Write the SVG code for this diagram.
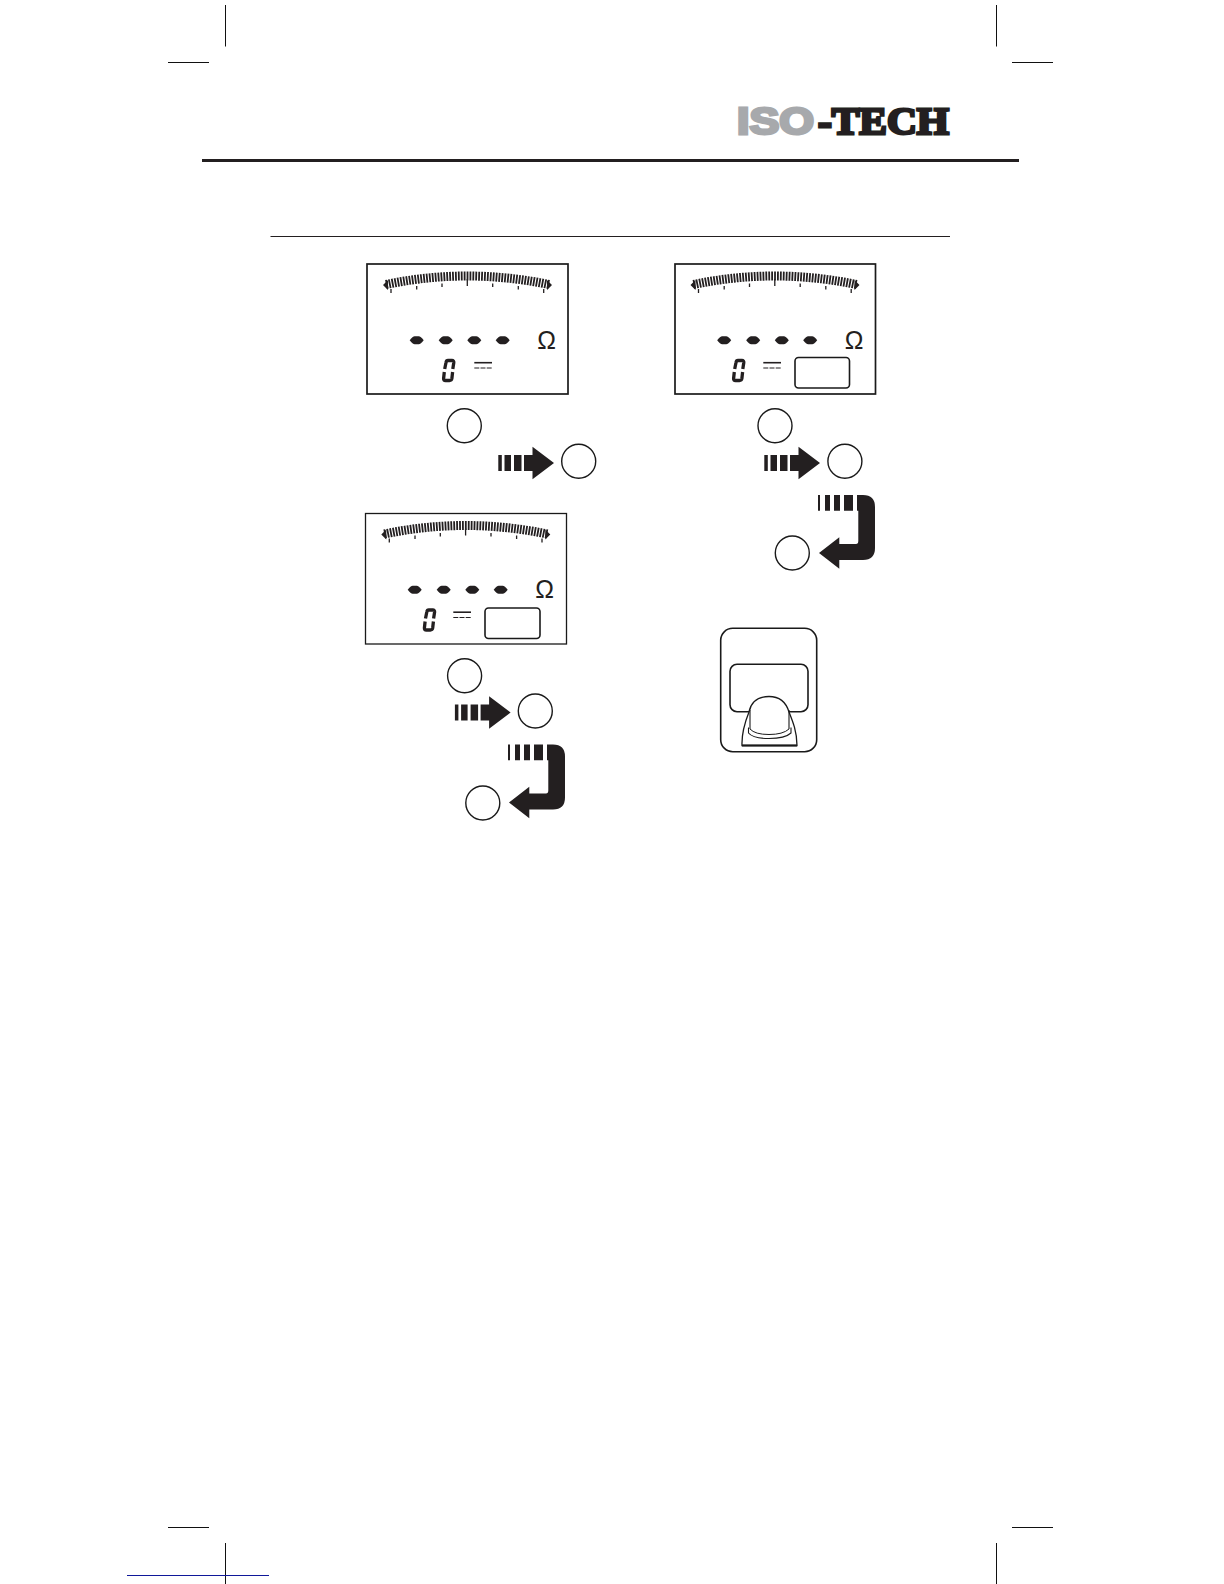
<svg xmlns="http://www.w3.org/2000/svg" xmlns:xlink="http://www.w3.org/1999/xlink" width="1224" height="1584" viewBox="0 0 1224 1584">
<style>
.crop{stroke:#111;stroke-width:1;fill:none}
.frame{fill:#fff;stroke:#1a1a1a;stroke-width:1.7}
.thin{fill:none;stroke:#1a1a1a;stroke-width:1.6}
.ring{fill:#fff;stroke:#1a1a1a;stroke-width:1.4}
.blk{fill:#231f20}
.om{font-family:"Liberation Sans",sans-serif;font-size:25px;fill:#231f20}
</style>
<defs>
<g id="scale">
<path d="M386 284.500Q467 267.500 549 284.500" fill="none" stroke="#231f20" stroke-width="9" stroke-dasharray="1.800 1.100"/>
<path class="blk" d="M383 285l5-5v10zM552 285l-5-5v10z"/>
<path d="M391 289v4M416.700 286v3.500M442 283.500v3.500M467.300 279v7M492.700 283.500v3.500M518.300 286v3.500M543.700 289v4" stroke="#231f20" stroke-width="1.300" fill="none"/>
</g>
<path id="dot" class="blk" d="M-7 0Q-4-4-2-4H2Q4-4 7 0Q4 4 2 4H-2Q-4 4-7 0Z"/>
<g id="dots">
<use href="#dot" x="416.700" y="340.300"/><use href="#dot" x="445.700" y="340.300"/><use href="#dot" x="474.300" y="340.300"/><use href="#dot" x="502.700" y="340.300"/>
<text class="om" x="546.700" y="348.500" text-anchor="middle">Ω</text>
</g>
<path id="digit" d="M444.700 369L446 362.500Q446.300 360.500 448 360.500H452Q454 360.500 453.800 362.500L452.800 369M444.300 372L443.600 378.500Q443.400 380.500 445.500 380.500H449.500Q451.500 380.500 451.900 378.500L452.600 372" fill="none" stroke="#231f20" stroke-width="3.300"/>
<g id="dc"><path d="M474.300 362.700H492" stroke="#231f20" stroke-width="1.600"/><path d="M474.300 368H492" stroke="#231f20" stroke-width="1" stroke-dasharray="5 1.200"/></g>
<path id="arrow" class="blk" d="M498.300 455h3.500v16h-3.500zM504.500 455h6.500v16h-6.500zM514 455h7.500v16h-7.500zM524 455h8.500v-8.300L554 463L532.500 479.300V471h-8.500z"/>
<path id="bend" class="blk" d="M818 495h2v15.700h-2zM825 495h5v15.700h-5zM834 495h6v15.700h-6zM844 495h9v15.700h-9zM857 495h6Q875 495 875 507V548Q875 560 863 560H839.300V568.700L819 553L839.300 537.300V544H856Q858.300 544 858.300 541V510.700H857z"/>
<circle id="c" class="ring" r="17"/>
</defs>

<g id="crop-marks">
<path class="crop" d="M225.500 5V46.500M168 62.500H209M996.500 5V46.500M1012 62.500H1053M168 1527.500H209M225.500 1543V1584M996.500 1543V1584M1012 1527.500H1053"/>
<path d="M127 1575.500H269" stroke="#10189a" stroke-width="1"/>
</g>

<g id="logo">
<text x="737" y="134" font-family="'Liberation Sans',sans-serif" font-weight="700" font-size="36" fill="#a7a9ac" stroke="#a7a9ac" stroke-width="2.800" textLength="77" lengthAdjust="spacingAndGlyphs">ISO</text>
<text x="818" y="134" font-family="'Liberation Serif',serif" font-weight="700" font-size="38" fill="#231f20" stroke="#231f20" stroke-width="2.800" textLength="131" lengthAdjust="spacingAndGlyphs">-TECH</text>
</g>

<g id="rules">
<path d="M202 160.500H1019" stroke="#231f20" stroke-width="3"/>
<path d="M270.500 236.500H950" stroke="#231f20" stroke-width="1"/>
</g>

<g id="display-1">
<rect class="frame" x="367" y="264" width="201" height="130"/>
<use href="#scale"/><use href="#dots"/><use href="#digit"/><use href="#dc"/>
</g>
<g id="display-2">
<rect class="frame" x="675" y="264" width="200.500" height="130"/>
<use href="#scale" x="307.500"/><use href="#dots" x="307.500"/><use href="#digit" x="290"/><use href="#dc" x="289"/>
<rect class="thin" x="795" y="357.500" width="54.500" height="30.500" rx="3.500"/>
</g>
<g id="display-3">
<rect class="frame" x="365.500" y="513.500" width="201" height="130.500" style="stroke-width:1.300"/>
<use href="#scale" x="-1.700" y="249.500"/><use href="#dots" x="-2" y="249.500"/><use href="#digit" x="-19.200" y="249.500"/><use href="#dc" x="-21" y="249.500"/>
<rect class="thin" x="485" y="608" width="55" height="30.500" rx="3.500"/>
</g>

<g id="connectors">
<use href="#arrow"/>
<use href="#arrow" x="266"/>
<use href="#arrow" x="-43.400" y="249.500"/>
<use href="#bend"/>
<use href="#bend" x="-310" y="249.500"/>
</g>

<g id="step-1a"><use href="#c" x="464.300" y="425.700"/></g>
<g id="step-1b"><use href="#c" x="578.700" y="461.300"/></g>
<g id="step-2a"><use href="#c" x="775" y="425.700"/></g>
<g id="step-2b"><use href="#c" x="844.900" y="461.300"/></g>
<g id="step-2c"><use href="#c" x="792.300" y="553"/></g>
<g id="step-3a"><use href="#c" x="464.600" y="675.700"/></g>
<g id="step-3b"><use href="#c" x="535.300" y="711"/></g>
<g id="step-3c"><use href="#c" x="482.800" y="803"/></g>

<g id="button">
<rect class="thin" x="720.700" y="628.300" width="96" height="123.400" rx="12"/>
<rect class="thin" x="730" y="664.300" width="78" height="47.400" rx="7"/>
<path d="M742 745.500C741.500 732 745 722 749 712C751 702 758 696.500 769 696.500C780 696.500 786 702 789 712C793 722 797 732 797 745.500Z" fill="#fff" stroke="#1a1a1a" stroke-width="1.300"/>
<path d="M742 745.500H797" stroke="#1a1a1a" stroke-width="2.200"/>
<path d="M750 710V729M789 710V729" stroke="#1a1a1a" stroke-width="1.100" fill="none"/>
<path d="M748.500 727.500V733Q753 738.500 769 738.500Q785 738.500 791 733V727.500" fill="none" stroke="#1a1a1a" stroke-width="1.100"/>
<path d="M750 729Q755 734.500 769 734.500Q783 734.500 789 729" fill="none" stroke="#1a1a1a" stroke-width="1"/>
</g>
</svg>
